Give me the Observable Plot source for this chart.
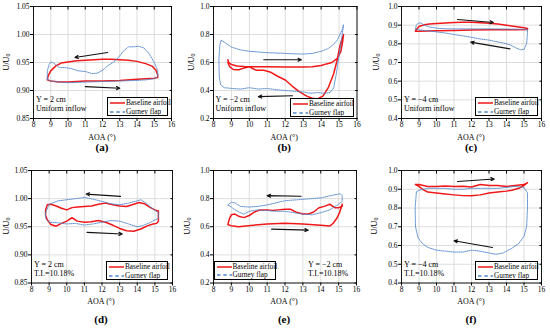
<!DOCTYPE html>
<html><head><meta charset="utf-8">
<script src="https://cdn.jsdelivr.net/npm/d3@7"></script>
<script src="https://cdn.jsdelivr.net/npm/@observablehq/plot@0.6"></script>
<style>
html,body{margin:0;padding:0;background:#fff;}
#root{position:relative;width:550px;height:329px;overflow:hidden;font-family:"Liberation Serif","Times New Roman",serif;color:#000;}
.ylab{position:absolute;font-size:8px;white-space:nowrap;transform:translate(-50%,-50%) rotate(-90deg);line-height:1;}
.ylab sub{font-size:6px;vertical-align:-1.5px;}
.xlab{position:absolute;font-size:8px;white-space:nowrap;transform:translate(-50%,-50%);line-height:1;}
.letter{position:absolute;font-size:11px;font-weight:bold;transform:translate(-50%,-50%);line-height:1;}
.ann{position:absolute;font-size:8px;line-height:9px;white-space:nowrap;}
.leg{position:absolute;border:0.8px solid #000;background:#fff;font-size:7.3px;box-sizing:border-box;}
.leg .row{position:absolute;left:2px;white-space:nowrap;display:flex;align-items:center;height:8px;line-height:8px;}
.leg svg{margin-right:1px;}
.pl{position:absolute;}
.pl svg{max-width:none;overflow:visible;}
</style></head>
<body><div id="root"></div>
<script>
// ---------- data ----------
const xTicks = [8, 9, 10, 11, 12, 13, 14, 15, 16];
const yTicksHi = [0.85, 0.90, 0.95, 1.00, 1.05];
const yTicksWide = [0.2, 0.4, 0.6, 0.8, 1.0];
const yTicksMid = [0.4, 0.5, 0.6, 0.7, 0.8, 0.9, 1.0];
const seriesNames = ["Baseline airfoil", "Gurney flap"];
const letters = ["(a)", "(b)", "(c)", "(d)", "(e)", "(f)"];
const yPositions = ["Y = 2 cm", "Y = \u22122 cm", "Y = \u22124 cm", "Y = 2 cm", "Y = \u22122 cm", "Y = \u22124 cm"];
const inflows = ["Uniform inflow", "Uniform inflow", "Uniform inflow", "T.I.=10.18%", "T.I.=10.18%", "T.I.=10.18%"];

// (a)
const aBaseAoa = [8.8, 8.85, 9.0, 9.3, 9.6, 10.0, 10.5, 11.0, 11.5, 12.0, 12.5, 13.0, 13.5, 14.0, 14.5, 14.9, 15.1, 15.2, 15.2, 15.0, 14.5, 14.0, 13.0, 12.0, 11.0, 10.0, 9.5, 9.0, 8.8];
const aBaseU = [0.919, 0.926, 0.935, 0.944, 0.949, 0.951, 0.953, 0.954, 0.955, 0.956, 0.956, 0.955, 0.954, 0.952, 0.948, 0.943, 0.936, 0.928, 0.923, 0.922, 0.921, 0.920, 0.918, 0.917, 0.917, 0.915, 0.915, 0.917, 0.919];
const aGurAoa = [8.8, 8.8, 8.9, 9.0, 9.1, 9.3, 9.5, 9.8, 10.2, 10.6, 11.0, 11.4, 11.7, 12.0, 12.3, 12.6, 12.9, 13.2, 13.5, 13.8, 14.1, 14.4, 14.7, 15.0, 15.2, 15.2, 15.0, 14.5, 14.0, 13.0, 12.0, 11.0, 10.0, 9.5, 9.0, 8.8];
const aGurU = [0.920, 0.935, 0.946, 0.951, 0.950, 0.946, 0.941, 0.941, 0.939, 0.935, 0.934, 0.930, 0.931, 0.936, 0.944, 0.950, 0.958, 0.970, 0.978, 0.978, 0.979, 0.976, 0.966, 0.950, 0.936, 0.925, 0.921, 0.919, 0.918, 0.917, 0.916, 0.915, 0.914, 0.915, 0.917, 0.920];
const aArrX1 = [12.3, 11.0], aArrY1 = [0.968, 0.907], aArrX2 = [10.4, 13.0], aArrY2 = [0.959, 0.904];

// (b)
const bBaseAoa = [8.8, 8.85, 9.0, 9.3, 9.7, 10.2, 11.0, 12.0, 13.0, 13.5, 14.0, 14.3, 14.6, 14.9, 15.1, 15.2, 15.25, 15.2, 15.05, 14.9, 14.7, 14.4, 14.1, 13.8, 13.5, 13.2, 12.8, 12.4, 12.0, 11.6, 11.2, 10.8, 10.4, 10.2, 10.0, 9.7, 9.4, 9.1, 8.9, 8.8];
const bBaseU = [0.62, 0.60, 0.585, 0.575, 0.572, 0.570, 0.570, 0.568, 0.568, 0.570, 0.578, 0.59, 0.60, 0.63, 0.68, 0.75, 0.80, 0.78, 0.72, 0.62, 0.52, 0.42, 0.36, 0.34, 0.345, 0.36, 0.39, 0.43, 0.475, 0.50, 0.53, 0.545, 0.545, 0.555, 0.57, 0.56, 0.548, 0.55, 0.57, 0.60];
const bGurAoa = [8.3, 8.35, 8.42, 8.6, 9.0, 9.5, 10.0, 10.5, 11.0, 11.5, 12.0, 12.5, 13.0, 13.5, 14.0, 14.4, 14.7, 14.9, 15.05, 15.2, 15.25, 15.15, 15.0, 14.85, 14.7, 14.5, 14.2, 13.8, 13.4, 13.0, 12.5, 12.0, 11.5, 11.0, 10.5, 10.0, 9.5, 9.0, 8.6, 8.4, 8.32, 8.3];
const bGurU = [0.62, 0.72, 0.76, 0.745, 0.71, 0.69, 0.68, 0.675, 0.67, 0.668, 0.665, 0.662, 0.66, 0.665, 0.68, 0.70, 0.73, 0.76, 0.80, 0.84, 0.87, 0.78, 0.65, 0.52, 0.42, 0.385, 0.38, 0.385, 0.38, 0.39, 0.395, 0.40, 0.405, 0.415, 0.41, 0.42, 0.41, 0.415, 0.42, 0.44, 0.50, 0.62];
const bArrX1 = [10.8, 12.4], bArrY1 = [0.62, 0.363], bArrX2 = [12.9, 10.5], bArrY2 = [0.62, 0.356];

// (c)
const cBaseAoa = [8.8, 9.0, 9.3, 9.6, 10.0, 10.5, 11.0, 11.5, 12.0, 12.5, 13.0, 13.5, 14.0, 14.5, 15.0, 15.2, 15.2, 14.5, 14.0, 13.0, 12.0, 11.0, 10.0, 9.0, 8.8, 8.8];
const cBaseU = [0.870, 0.893, 0.902, 0.906, 0.909, 0.912, 0.914, 0.915, 0.915, 0.913, 0.910, 0.906, 0.900, 0.893, 0.886, 0.882, 0.877, 0.876, 0.876, 0.875, 0.874, 0.872, 0.870, 0.868, 0.868, 0.870];
const cGurAoa = [8.8, 8.85, 8.95, 9.1, 9.3, 9.6, 10.0, 10.5, 11.0, 12.0, 13.0, 14.0, 15.0, 15.2, 15.2, 15.15, 15.0, 14.8, 14.5, 14.2, 13.8, 13.4, 13.0, 12.5, 12.0, 11.5, 11.0, 10.5, 10.0, 9.5, 9.0, 8.8];
const cGurU = [0.880, 0.900, 0.911, 0.912, 0.900, 0.890, 0.884, 0.881, 0.880, 0.880, 0.880, 0.879, 0.878, 0.875, 0.860, 0.800, 0.770, 0.768, 0.780, 0.795, 0.805, 0.812, 0.820, 0.826, 0.835, 0.843, 0.850, 0.858, 0.864, 0.870, 0.875, 0.880];
const cArrX1 = [11.2, 14.2], cArrY1 = [0.930, 0.773], cArrX2 = [13.25, 11.95], cArrY2 = [0.914, 0.809];

// (d)
const dBaseAoa = [15.2, 15.0, 14.7, 14.4, 14.1, 13.8, 13.4, 13.0, 12.6, 12.2, 11.8, 11.4, 11.0, 10.6, 10.3, 10.0, 9.7, 9.4, 9.1, 8.9, 8.8, 8.8, 8.9, 9.1, 9.4, 9.7, 10.0, 10.3, 10.6, 11.0, 11.4, 11.8, 12.2, 12.6, 13.0, 13.4, 13.8, 14.2, 14.6, 14.9, 15.1, 15.2, 15.2];
const dBaseU = [0.978, 0.980, 0.985, 0.991, 0.993, 0.990, 0.986, 0.987, 0.989, 0.992, 0.990, 0.987, 0.986, 0.985, 0.984, 0.980, 0.983, 0.987, 0.990, 0.989, 0.980, 0.970, 0.962, 0.954, 0.951, 0.956, 0.960, 0.966, 0.960, 0.958, 0.959, 0.961, 0.958, 0.953, 0.947, 0.943, 0.942, 0.946, 0.952, 0.955, 0.956, 0.960, 0.978];
const dGurAoa = [8.8, 9.0, 9.5, 10.0, 10.5, 11.0, 11.5, 12.0, 12.5, 13.0, 13.5, 14.0, 14.2, 14.5, 14.8, 15.0, 15.2, 15.2, 15.0, 14.7, 14.3, 14.0, 13.5, 13.0, 12.5, 12.0, 11.5, 11.0, 10.5, 10.0, 9.5, 9.0, 8.8, 8.8];
const dGurU = [0.975, 0.990, 0.996, 0.998, 1.000, 1.002, 0.999, 0.995, 0.991, 0.989, 0.992, 0.996, 0.998, 0.992, 0.984, 0.979, 0.975, 0.965, 0.962, 0.957, 0.952, 0.950, 0.955, 0.960, 0.961, 0.958, 0.955, 0.953, 0.956, 0.955, 0.957, 0.958, 0.965, 0.975];
const dArrX1 = [13.05, 11.15], dArrY1 = [1.004, 0.940], dArrX2 = [11.1, 13.15], dArrY2 = [1.008, 0.937];

// (e)
const eBaseAoa = [8.8, 9.0, 9.4, 9.8, 10.5, 11.0, 12.0, 13.0, 14.0, 14.5, 14.7, 14.9, 15.05, 15.2, 15.2, 15.0, 14.8, 14.5, 14.2, 13.9, 13.6, 13.3, 13.0, 12.6, 12.3, 12.0, 11.6, 11.3, 11.0, 10.6, 10.3, 10.0, 9.7, 9.4, 9.2, 9.0, 8.9, 8.8];
const eBaseU = [0.615, 0.607, 0.600, 0.605, 0.615, 0.620, 0.625, 0.620, 0.610, 0.605, 0.625, 0.66, 0.70, 0.76, 0.745, 0.735, 0.735, 0.760, 0.745, 0.735, 0.705, 0.690, 0.690, 0.705, 0.725, 0.725, 0.72, 0.715, 0.72, 0.72, 0.705, 0.68, 0.665, 0.675, 0.69, 0.685, 0.66, 0.615];
const eGurAoa = [8.8, 9.0, 9.2, 9.5, 10.0, 10.5, 11.0, 11.5, 12.0, 12.5, 13.0, 13.5, 14.0, 14.5, 14.9, 15.1, 15.2, 15.2, 15.0, 14.5, 14.0, 13.5, 13.0, 12.5, 12.0, 11.5, 11.0, 10.5, 10.0, 9.7, 9.5, 9.2, 9.0, 8.8];
const eGurU = [0.755, 0.775, 0.770, 0.745, 0.740, 0.745, 0.755, 0.770, 0.785, 0.790, 0.795, 0.800, 0.805, 0.820, 0.830, 0.835, 0.820, 0.780, 0.760, 0.720, 0.700, 0.685, 0.690, 0.700, 0.710, 0.710, 0.715, 0.720, 0.710, 0.690, 0.700, 0.720, 0.740, 0.755];
const eArrX1 = [12.9, 11.25], eArrY1 = [0.817, 0.583], eArrX2 = [11.0, 13.3], eArrY2 = [0.821, 0.576];

// (f)
const fBaseAoa = [8.8, 9.0, 9.5, 10.0, 10.5, 11.0, 11.5, 12.0, 12.5, 13.0, 13.5, 14.0, 14.5, 15.0, 15.2, 15.0, 14.7, 14.3, 14.0, 13.5, 13.0, 12.5, 12.0, 11.5, 11.0, 10.5, 10.0, 9.5, 9.2, 9.0, 8.8];
const fBaseU = [0.925, 0.925, 0.915, 0.915, 0.917, 0.915, 0.916, 0.912, 0.925, 0.920, 0.920, 0.915, 0.920, 0.925, 0.935, 0.920, 0.905, 0.895, 0.890, 0.885, 0.880, 0.870, 0.865, 0.866, 0.870, 0.875, 0.880, 0.885, 0.900, 0.915, 0.925];
const fGurAoa = [8.85, 9.0, 9.5, 10.0, 10.5, 11.0, 11.5, 12.0, 12.5, 13.0, 13.5, 14.0, 14.5, 15.0, 15.2, 15.2, 15.15, 15.0, 14.7, 14.3, 13.8, 13.4, 13.0, 12.5, 12.0, 11.5, 11.0, 10.5, 10.0, 9.5, 9.2, 8.95, 8.8, 8.78, 8.85];
const fGurU = [0.885, 0.895, 0.905, 0.905, 0.905, 0.900, 0.900, 0.905, 0.905, 0.905, 0.905, 0.910, 0.915, 0.910, 0.880, 0.800, 0.700, 0.650, 0.610, 0.585, 0.560, 0.553, 0.560, 0.570, 0.575, 0.565, 0.565, 0.570, 0.575, 0.590, 0.610, 0.640, 0.700, 0.800, 0.885];
const fArrX1 = [11.2, 13.2], fArrY1 = [0.941, 0.589], fArrX2 = [13.3, 11.0], fArrY2 = [0.955, 0.625];

// ---------- layout ----------
const RED = "#f01818", BLUE = "#4f86cc";
const panels = [
  {frame:[33, 6, 171, 118], yDomain:[0.85, 1.05], yTicks:yTicksHi, fmt:".2f", base:[aBaseAoa, aBaseU], gur:[aGurAoa, aGurU], arr:[aArrX1, aArrY1, aArrX2, aArrY2], legend:[107, 97, 61, 19], ann:[36, 94.5], ylabOff:26, letterY:147},
  {frame:[212.5, 6, 356, 118], yDomain:[0.2, 1.0], yTicks:yTicksWide, fmt:".1f", base:[bBaseAoa, bBaseU], gur:[bGurAoa, bGurU], arr:[bArrX1, bArrY1, bArrX2, bArrY2], legend:[290, 98, 64, 18.5], ann:[215.5, 94.5], ylabOff:21, letterY:147},
  {frame:[401, 6, 541, 118], yDomain:[0.4, 1.0], yTicks:yTicksMid, fmt:".1f", base:[cBaseAoa, cBaseU], gur:[cGurAoa, cGurU], arr:[cArrX1, cArrY1, cArrX2, cArrY2], legend:[475, 97, 63, 19], ann:[404, 94.5], ylabOff:24, letterY:147},
  {frame:[30.5, 170, 171.5, 282.5], yDomain:[0.85, 1.05], yTicks:yTicksHi, fmt:".2f", base:[dBaseAoa, dBaseU], gur:[dGurAoa, dGurU], arr:[dArrX1, dArrY1, dArrX2, dArrY2], legend:[106, 261, 62, 19], ann:[34, 259.5], ylabOff:24, letterY:319},
  {frame:[212.5, 170, 355.5, 282.5], yDomain:[0.2, 1.0], yTicks:yTicksWide, fmt:".1f", base:[eBaseAoa, eBaseU], gur:[eGurAoa, eGurU], arr:[eArrX1, eArrY1, eArrX2, eArrY2], legend:[213.5, 260.5, 62, 19], ann:[308, 259.5], ylabOff:25, letterY:319},
  {frame:[401, 170, 541, 282.5], yDomain:[0.4, 1.0], yTicks:yTicksMid, fmt:".1f", base:[fBaseAoa, fBaseU], gur:[fGurAoa, fGurU], arr:[fArrX1, fArrY1, fArrX2, fArrY2], legend:[475, 261, 63, 19], ann:[404, 259.5], ylabOff:26, letterY:319}
];

const rows = ([xs, ys]) => xs.map((x, i) => ({aoa: x, u: ys[i]}));
const arrRows = ([x1, y1, x2, y2]) => x1.map((v, i) => ({x1: v, y1: y1[i], x2: x2[i], y2: y2[i]}));

const root = document.getElementById("root");
const ml = 30, mr = 6, mt = 4, mb = 24;

function el(tag, cls, html, style) {
  const e = document.createElement(tag);
  if (cls) e.className = cls;
  if (html != null) e.innerHTML = html;
  Object.assign(e.style, style || {});
  root.appendChild(e);
  return e;
}

panels.forEach((p, i) => {
  const [l, t, r, b] = p.frame;
  const W = r - l + ml + mr, H = b - t + mt + mb;
  const svg = Plot.plot({
    width: W, height: H,
    marginLeft: ml, marginRight: mr, marginTop: mt, marginBottom: mb,
    x: {domain: [8, 16]},
    y: {domain: p.yDomain},
    style: {fontFamily: "Liberation Serif, Times New Roman, serif", fontSize: "7.5px", background: "transparent", overflow: "visible", color: "#000"},
    marks: [
      Plot.gridX(xTicks, {stroke: "#d4d4d4", strokeOpacity: 1, strokeWidth: 0.8}),
      Plot.gridY(p.yTicks, {stroke: "#d4d4d4", strokeOpacity: 1, strokeWidth: 0.8}),
      Plot.line(rows(p.base), {x: "aoa", y: "u", stroke: RED, strokeWidth: 1.5}),
      Plot.line(rows(p.gur), {x: "aoa", y: "u", stroke: BLUE, strokeWidth: 0.9, strokeDasharray: "1,1"}),
      Plot.arrow(arrRows(p.arr), {x1: "x1", y1: "y1", x2: "x2", y2: "y2", stroke: "#111", strokeWidth: 1.1, headLength: 5, headAngle: 50}),
      Plot.frame({stroke: "#000", strokeWidth: 0.9}),
      Plot.axisX(xTicks, {tickSize: 3, tickPadding: 0.5, label: null}),
      Plot.axisY(p.yTicks, {tickSize: 3, tickPadding: 1, tickFormat: d3.format(p.fmt), label: null}),
      Plot.axisX(xTicks, {anchor: "top", tickSize: -2.5, fill: "none", label: null}),
      Plot.axisY(p.yTicks, {anchor: "right", tickSize: -2.5, fill: "none", label: null})
    ]
  });
  const holder = el("div", "pl", null, {left: (l - ml) + "px", top: (t - mt) + "px", width: W + "px", height: H + "px"});
  holder.appendChild(svg);

  el("div", "ylab", "U/U<sub>0</sub>", {left: (l - p.ylabOff) + "px", top: ((t + b) / 2) + "px"});
  el("div", "xlab", "AOA (\u00b0)", {left: ((l + r) / 2) + "px", top: (b + 19.5) + "px"});
  el("div", "letter", letters[i], {left: ((l + r) / 2) + "px", top: p.letterY + "px"});
  el("div", "ann", yPositions[i] + "<br>" + inflows[i], {left: p.ann[0] + "px", top: p.ann[1] + "px"});

  const [lx, ly, lw, lh] = p.legend;
  const sw = (c, dash, w) => `<svg width="15" height="4"><line x1="0" x2="15" y1="2" y2="2" stroke="${c}" stroke-width="${w}" ${dash ? `stroke-dasharray="${dash}"` : ""}/></svg>`;
  el("div", "leg",
    `<div class="row" style="top:1px">${sw(RED, null, 1.5)}${seriesNames[0]}</div>` +
    `<div class="row" style="top:9.5px">${sw(BLUE, "3.5,2.8", 1.6)}${seriesNames[1]}</div>`,
    {left: lx + "px", top: ly + "px", width: lw + "px", height: lh + "px"});
});
</script></body></html>
